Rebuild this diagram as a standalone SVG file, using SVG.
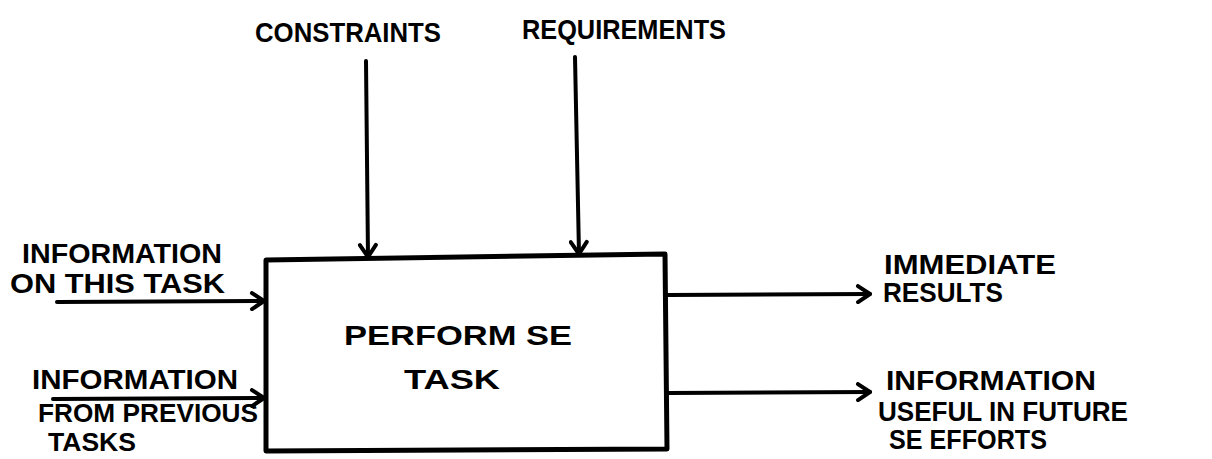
<svg xmlns="http://www.w3.org/2000/svg" width="1212" height="459" viewBox="0 0 1212 459">
  <style>
    .lbl { font-family: "Liberation Sans", Arial, sans-serif; font-size: 28px; font-weight: bold; fill: #000; }
    .sm { font-size: 25px; }
    .ln { stroke: #000; stroke-width: 4; fill: none; stroke-linecap: round; }
    .box { stroke: #000; stroke-width: 5; fill: #fff; stroke-linejoin: round; }
  </style>
  <defs>
    <!-- open chevron head used by every flow line -->
    <marker id="chev" viewBox="0 0 20 20" refX="17" refY="10" markerWidth="20" markerHeight="20" markerUnits="userSpaceOnUse" orient="auto">
      <polyline points="5,2 17,10 5,18" fill="none" stroke="#000" stroke-width="4" stroke-linecap="round" stroke-linejoin="round"/>
    </marker>
  </defs>
  <rect width="1212" height="459" fill="#fff"/>

  <g id="connectors">
    <line class="ln" x1="366" y1="61" x2="368" y2="257" marker-end="url(#chev)"/>
    <line class="ln" x1="575" y1="57" x2="579" y2="254" marker-end="url(#chev)"/>
    <line class="ln" x1="57" y1="302" x2="264" y2="301" marker-end="url(#chev)"/>
    <line class="ln" x1="53" y1="399" x2="264" y2="398" marker-end="url(#chev)"/>
    <line class="ln" x1="668" y1="295" x2="870" y2="294" marker-end="url(#chev)"/>
    <line class="ln" x1="668" y1="393" x2="870" y2="392" marker-end="url(#chev)"/>
  </g>

  <g id="task">
    <path class="box" d="M266,260 L665,254 L667,449 L266,451 Z"/>
    <text class="lbl" x="344" y="345" textLength="228" lengthAdjust="spacingAndGlyphs">PERFORM SE</text>
    <text class="lbl" x="404" y="389" textLength="96" lengthAdjust="spacingAndGlyphs">TASK</text>
  </g>

  <g id="constraints">
    <text class="lbl" x="255" y="42" textLength="186" lengthAdjust="spacingAndGlyphs">CONSTRAINTS</text>
  </g>
  <g id="requirements">
    <text class="lbl" x="522" y="39" textLength="204" lengthAdjust="spacingAndGlyphs">REQUIREMENTS</text>
  </g>

  <g id="info-this-task">
    <text class="lbl" x="22" y="263" textLength="200" lengthAdjust="spacingAndGlyphs">INFORMATION</text>
    <text class="lbl" x="10" y="293" textLength="215" lengthAdjust="spacingAndGlyphs">ON THIS TASK</text>
  </g>
  <g id="info-previous">
    <text class="lbl" x="32" y="389" textLength="206" lengthAdjust="spacingAndGlyphs">INFORMATION</text>
    <text class="lbl sm" x="38" y="422" textLength="220" lengthAdjust="spacingAndGlyphs">FROM PREVIOUS</text>
    <text class="lbl sm" x="48" y="451" textLength="88" lengthAdjust="spacingAndGlyphs">TASKS</text>
  </g>

  <g id="immediate-results">
    <text class="lbl" x="884" y="274" textLength="172" lengthAdjust="spacingAndGlyphs">IMMEDIATE</text>
    <text class="lbl" x="883" y="302" textLength="120" lengthAdjust="spacingAndGlyphs">RESULTS</text>
  </g>
  <g id="future-info">
    <text class="lbl" x="886" y="390" textLength="210" lengthAdjust="spacingAndGlyphs">INFORMATION</text>
    <text class="lbl" x="878" y="421" textLength="250" lengthAdjust="spacingAndGlyphs">USEFUL IN FUTURE</text>
    <text class="lbl" x="889" y="449" textLength="158" lengthAdjust="spacingAndGlyphs">SE EFFORTS</text>
  </g>
</svg>
